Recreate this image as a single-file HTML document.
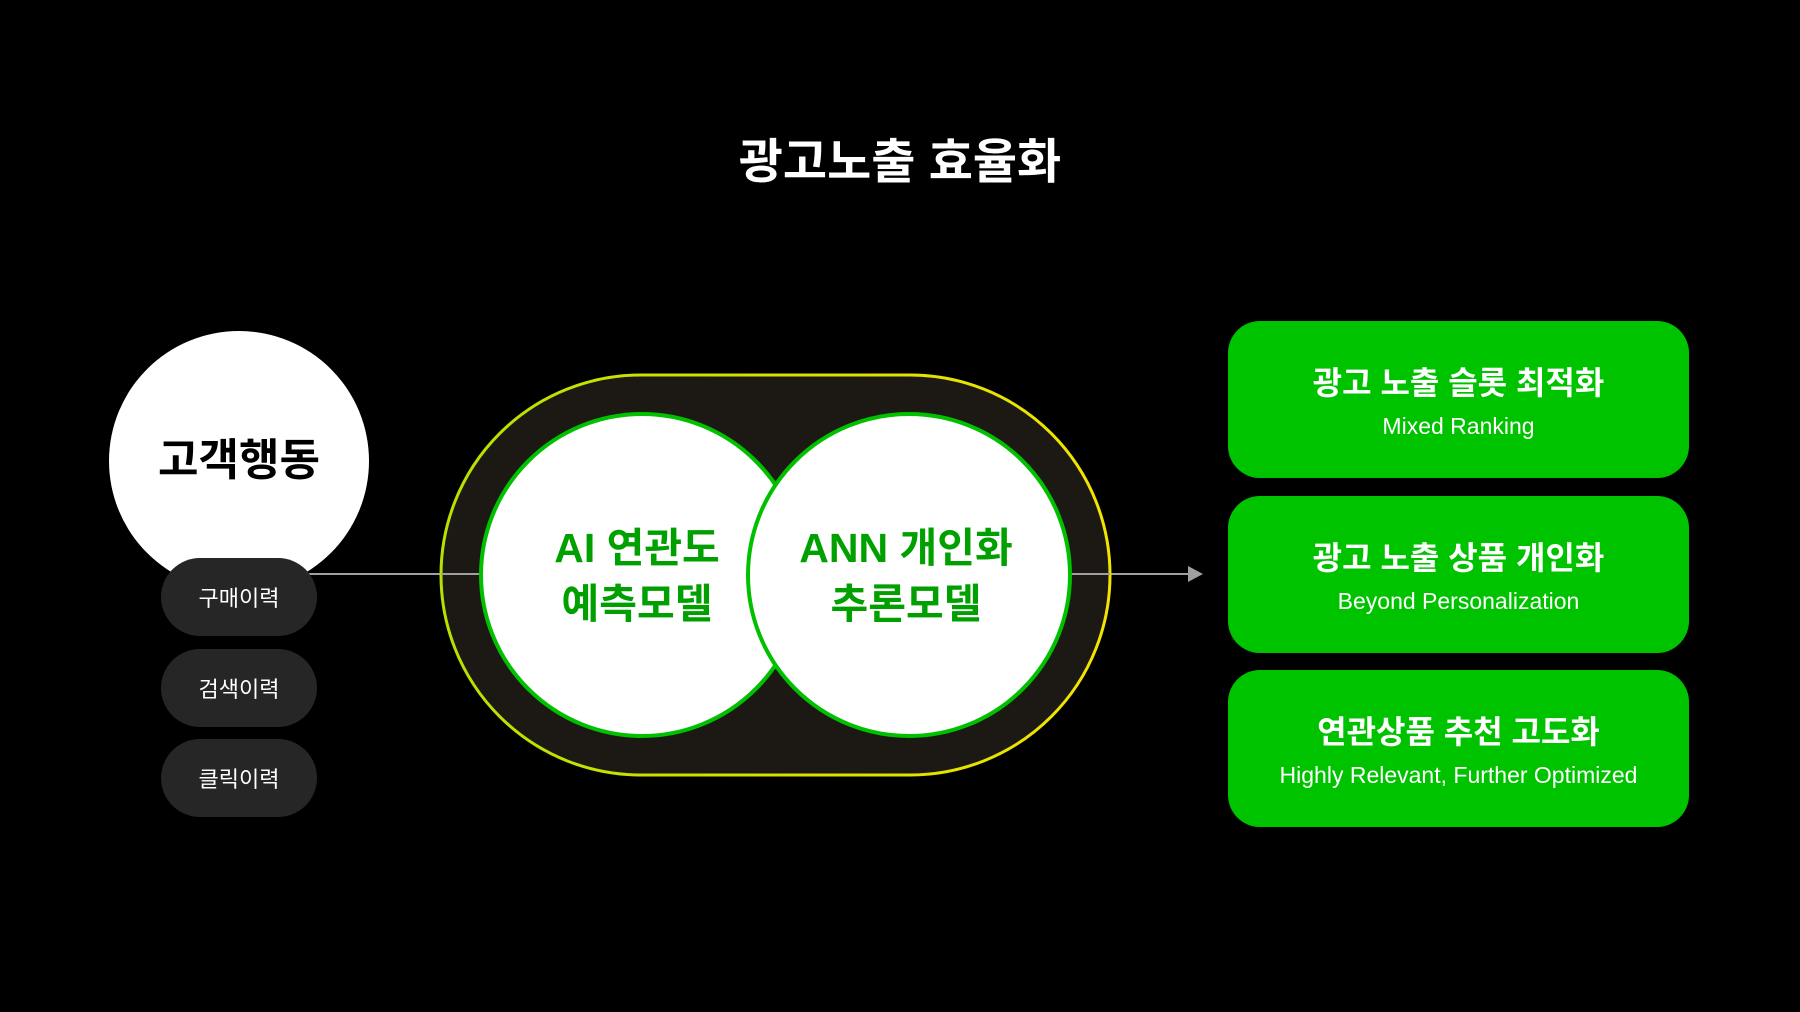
<!DOCTYPE html>
<html><head><meta charset="utf-8"><style>
html,body{margin:0;padding:0;background:#000;}
body{width:1800px;height:1012px;position:relative;overflow:hidden;font-family:"Liberation Sans","Noto Sans CJK KR",sans-serif;}
.a{position:absolute;}
.title{left:0;width:1800px;top:122px;text-align:center;color:#fff;font-size:48px;font-weight:bold;}
.pill{left:161px;width:156px;height:78px;border-radius:39px;background:#262626;color:#fff;font-size:22px;display:flex;align-items:center;justify-content:center;}
.box{left:1228px;width:461px;height:157px;border-radius:32px;background:#00c300;color:#fff;text-align:center;}
.box .t{font-size:32px;font-weight:bold;margin-top:42px;line-height:40px;}
.box .s{font-size:23px;margin-top:8px;line-height:30px;}
.g{color:#00a000;font-weight:bold;font-size:41px;text-align:center;line-height:56px;}
</style></head><body>
<div class="a title">광고노출 효율화</div>
<svg class="a" style="left:0;top:0" width="1800" height="1012">
<defs><linearGradient id="yg" x1="0" x2="1"><stop offset="0" stop-color="#b8e000"/><stop offset="1" stop-color="#f2e400"/></linearGradient></defs>
<circle cx="239" cy="461" r="130" fill="#fff"/>
<line x1="300" y1="574" x2="1190" y2="574" stroke="#a0a0a0" stroke-width="2"/>
<polygon points="1188,566 1203,574 1188,582" fill="#a0a0a0"/>
<rect x="441" y="375" width="669" height="400" rx="200" fill="#1c1813" stroke="url(#yg)" stroke-width="3"/>
<line x1="441" y1="574" x2="1110" y2="574" stroke="#a0a0a0" stroke-width="2"/>
<circle cx="642" cy="575" r="161" fill="#fff" stroke="#00c000" stroke-width="4"/>
<circle cx="909" cy="575" r="161" fill="#fff" stroke="#00c000" stroke-width="4"/>
</svg>
<div class="a" style="left:109px;top:433px;width:260px;text-align:center;font-size:44px;font-weight:bold;color:#000;line-height:56px;">고객행동</div>
<div class="a pill" style="top:558px">구매이력</div>
<div class="a pill" style="top:649px">검색이력</div>
<div class="a pill" style="top:739px">클릭이력</div>
<div class="a g" style="left:487px;width:300px;top:520px;">AI 연관도<br>예측모델</div>
<div class="a g" style="left:756px;width:300px;top:520px;">ANN 개인화<br>추론모델</div>
<div class="a box" style="top:321px"><div class="t">광고 노출 슬롯 최적화</div><div class="s">Mixed Ranking</div></div>
<div class="a box" style="top:496px"><div class="t">광고 노출 상품 개인화</div><div class="s">Beyond Personalization</div></div>
<div class="a box" style="top:670px"><div class="t">연관상품 추천 고도화</div><div class="s">Highly Relevant, Further Optimized</div></div>
</body></html>
